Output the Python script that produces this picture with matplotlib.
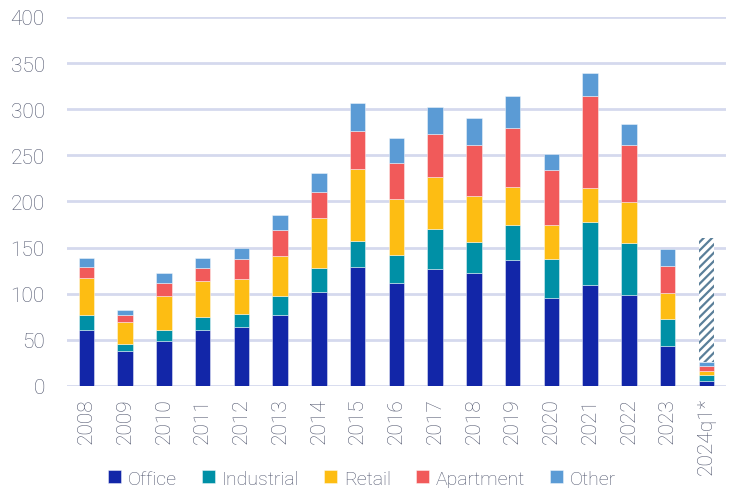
import matplotlib
matplotlib.use('Agg')
import matplotlib.pyplot as plt
import numpy as np

# Datos
anios = ['2008', '2009', '2010', '2011', '2012', '2013', '2014', '2015', '2016',
         '2017', '2018', '2019', '2020', '2021', '2022', '2023', '2024q1*']
office = [61, 38, 49, 61, 64, 77.5, 102, 129, 112, 127, 122, 137, 95.5, 110, 99, 43, 5]
industrial = [16, 8, 12, 14, 14, 20, 26, 28.5, 30, 43, 34, 37, 42, 68, 56, 30, 6.5]
retail = [40, 23.5, 37, 39, 38, 43, 54, 78, 61, 57, 50, 42, 36.5, 36.5, 44, 27.5, 5]
apartment = [12, 7, 13.5, 14, 22, 29, 28, 41, 38.5, 46, 55, 64, 60, 99.5, 62, 30, 5]
other = [10, 6, 11, 11, 12, 15.5, 21, 30, 27.5, 29, 29, 34, 17, 25, 23, 17.5, 4.5]
estimado_2024 = 160  # barra rayada

series = [('Office', office, '#1226a8'),
          ('Industrial', industrial, '#0090a6'),
          ('Retail', retail, '#fdbd13'),
          ('Apartment', apartment, '#f15a5a'),
          ('Other', other, '#5b9bd5')]

txt = '#50566e'
plt.rcParams['font.family'] = ['Roboto', 'DejaVu Sans']
plt.rcParams['font.weight'] = 'light'
plt.rcParams['hatch.color'] = '#5a7f99'
plt.rcParams['hatch.linewidth'] = 1.6

fig = plt.figure(figsize=(7.31, 4.89), dpi=100)
ax = fig.add_axes([0.0917, 0.2086, 0.901, 0.7546])

x = np.arange(len(anios))
w = 0.4

# barra rayada de 2024q1
resto = estimado_2024 - sum(s[1][-1] for s in series)
ax.bar(x[-1], resto, w, bottom=estimado_2024 - resto, color='white',
       hatch='////', edgecolor='#5a7f99', linewidth=0, zorder=2)

bottom = np.zeros(len(anios))
for nombre, vals, col in series:
    ax.bar(x, vals, w, bottom=bottom, color=col, label=nombre,
           edgecolor=(1, 1, 1, 0.5), linewidth=0.6, zorder=3)
    bottom += np.array(vals)

ax.set_ylim(0, 400)
ax.set_xlim(-0.5, len(anios) - 0.5)
ax.set_yticks(range(0, 401, 50))
ax.set_xticks(x)
ax.set_xticklabels(anios, rotation=90)
ax.yaxis.grid(True, color='#d5d9ee', linewidth=2, zorder=0)
ax.set_axisbelow(True)
for s in ax.spines.values():
    s.set_visible(False)
ax.tick_params(length=0, labelsize=15, colors=txt)
ax.tick_params(axis='y', pad=16)
ax.tick_params(axis='x', pad=8)

fig.legend(loc='lower center', bbox_to_anchor=(0.495, -0.035), ncol=5, frameon=False,
           fontsize=14, labelcolor=txt, handlelength=0.65, handleheight=0.65,
           handletextpad=0.35, columnspacing=1.3)

fig.savefig('out.png', dpi=100)
